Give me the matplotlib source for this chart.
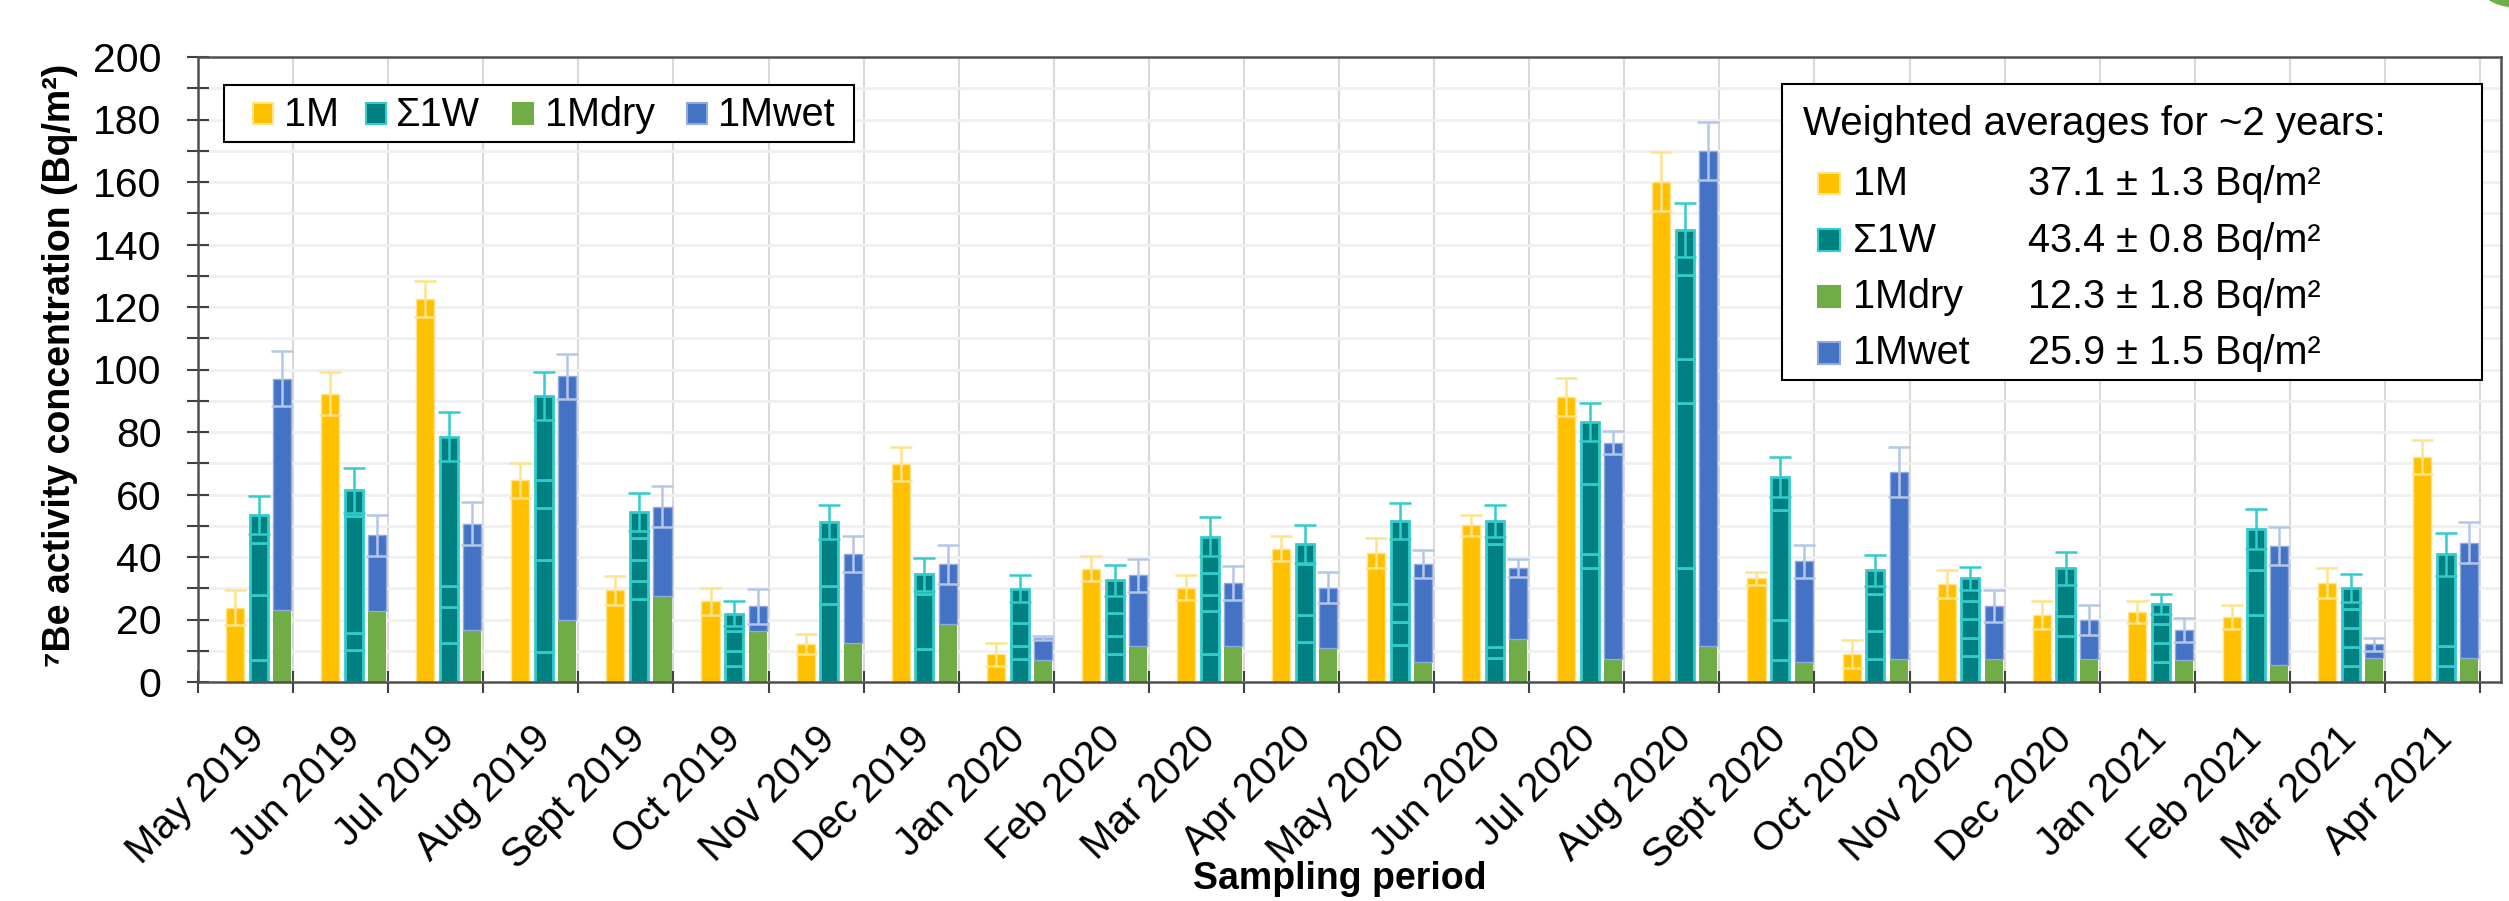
import numpy as np
import matplotlib
matplotlib.use("Agg")
import matplotlib.pyplot as plt
from matplotlib.patches import Rectangle, Ellipse

plt.rcParams['font.family'] = ['Liberation Sans', 'DejaVu Sans']

# data (Bq/m2)
months = ['May 2019', 'Jun 2019', 'Jul 2019', 'Aug 2019', 'Sept 2019', 'Oct 2019',
          'Nov 2019', 'Dec 2019', 'Jan 2020', 'Feb 2020', 'Mar 2020', 'Apr 2020',
          'May 2020', 'Jun 2020', 'Jul 2020', 'Aug 2020', 'Sept 2020', 'Oct 2020',
          'Nov 2020', 'Dec 2020', 'Jan 2021', 'Feb 2021', 'Mar 2021', 'Apr 2021']

m1 = [23.8, 92.3, 122.5, 64.5, 29.3, 25.9, 12.1, 69.7, 8.9, 36.3, 30.2, 42.7,
      41.2, 50.1, 91.3, 160.1, 33.2, 8.9, 31.3, 21.4, 22.4, 20.8, 31.8, 72.0]
m1_err = [5.5, 7.0, 5.8, 5.5, 4.6, 4.3, 3.2, 5.5, 3.7, 4.0, 4.0, 4.0,
          4.8, 3.3, 6.1, 9.4, 2.1, 4.5, 4.5, 4.5, 3.5, 3.7, 4.8, 5.4]

# weekly samples, stacked into the sum-of-weeks bar
weekly = [[6.9, 20.9, 16.8, 8.8],
          [10.1, 5.7, 37.4, 8.1],
          [12.6, 11.4, 6.6, 47.9],
          [9.7, 29.2, 16.7, 8.9, 27.0],
          [26.5, 5.8, 6.6, 7.1, 8.4],
          [5.1, 4.8, 6.4, 5.6],
          [25.1, 5.6, 20.5],
          [10.5, 17.8, 6.2],
          [7.5, 4.0, 7.5, 10.9],
          [9.1, 5.6, 7.5, 10.3],
          [8.9, 13.8, 5.0, 7.1, 11.7],
          [12.9, 8.5, 16.5, 6.2],
          [11.8, 7.4, 5.7, 26.6],
          [7.8, 3.4, 32.9, 7.4],
          [36.6, 4.3, 22.6, 19.7],
          [36.6, 52.6, 14.3, 26.7, 14.4],
          [6.9, 12.9, 35.2, 10.6],
          [7.3, 9.0, 11.8, 7.6],
          [8.3, 5.9, 5.9, 5.8, 7.3],
          [14.7, 6.4, 15.3],
          [6.5, 5.9, 6.2, 6.4],
          [21.6, 14.4, 13.0],
          [5.1, 6.1, 6.0, 6.1, 6.9],
          [5.1, 6.4, 29.4]]
w_err = [6.0, 7.3, 7.9, 7.8, 6.0, 4.0, 5.4, 5.3, 4.3, 4.9, 6.3, 6.0,
         5.7, 5.1, 6.0, 8.6, 6.5, 5.1, 3.6, 5.3, 3.2, 6.4, 4.5, 6.9]

dry = [23.0, 22.7, 16.6, 19.8, 27.5, 16.3, 12.6, 18.7, 6.9, 11.5, 11.5, 10.8,
       6.5, 13.9, 7.5, 11.5, 6.5, 7.5, 7.5, 7.5, 6.9, 5.4, 7.8, 7.8]
wet = [74.1, 24.2, 34.1, 78.1, 28.6, 8.0, 28.3, 19.0, 7.3, 22.7, 20.1, 19.4,
       31.2, 22.7, 69.1, 158.4, 32.2, 59.8, 16.8, 12.3, 9.7, 38.1, 4.3, 36.8]
wet_err = [8.8, 6.5, 6.9, 7.2, 6.6, 5.6, 5.8, 6.3, 0.6, 5.3, 5.5, 5.0,
           4.5, 2.9, 3.7, 9.2, 5.3, 8.0, 5.0, 4.8, 3.8, 6.1, 2.1, 6.6]

series_names = ['1M', 'Σ1W', '1Mdry', '1Mwet']
avg_text = ['37.1 ± 1.3 Bq/m²', '43.4 ± 0.8 Bq/m²', '12.3 ± 1.8 Bq/m²', '25.9 ± 1.5 Bq/m²']

# colours
YEL, YEL_E = '#FFC000', '#FFE38A'
TEAL, TURQ = '#008080', '#33CCCC'
GREEN = '#70AD47'
BLUE, BLUE_E = '#4472C4', '#B4C7E7'
face = [YEL, TEAL, GREEN, BLUE]
edge = [YEL_E, TURQ, GREEN, '#8FAADC']

W, H = 2509, 901
def fx(px):
    return px / W
def fy(py):
    return 1 - py / H

fig = plt.figure(figsize=(W / 100, H / 100), dpi=100)
ax = fig.add_axes([fx(198), fy(682), (2501 - 198) / W, (682 - 57) / H])
ax.set_axisbelow(True)

x = np.arange(len(months))
bw = 0.19
ebar = dict(fmt='none', elinewidth=1.8, capsize=8, capthick=1.8, zorder=4)

# 1M
ax.bar(x - 0.11, m1, bw, color=YEL, edgecolor=YEL_E, linewidth=1, zorder=2)
ax.errorbar(x - 0.11, m1, yerr=m1_err, ecolor=YEL_E, **ebar)

# sum of weekly samples
for i, weeks in enumerate(weekly):
    bottoms = np.concatenate([[0], np.cumsum(weeks)[:-1]])
    ax.bar(np.full(len(weeks), x[i] + 0.14), weeks, bw, bottom=bottoms,
           color=TEAL, edgecolor=TURQ, linewidth=2, zorder=2)
w_tot = [sum(w) for w in weekly]
ax.errorbar(x + 0.14, w_tot, yerr=w_err, ecolor=TURQ, **ebar)

# dry + wet stacked
ax.bar(x + 0.385, dry, bw, color=GREEN, linewidth=0, zorder=2)
ax.bar(x + 0.385, wet, bw, bottom=dry, color=BLUE, edgecolor='#8FAADC', linewidth=1, zorder=2)
ax.errorbar(x + 0.385, np.add(dry, wet), yerr=wet_err, ecolor=BLUE_E, **ebar)

# axes, ticks, grid
ax.set_xlim(-0.5, 23.72)
ax.set_ylim(0, 200)
ax.set_xticks(np.arange(-0.5, 24, 1))
ax.set_xticklabels([])
ax.set_xticks(x, minor=True)
ax.set_xticklabels(months, minor=True, rotation=45, ha='right', va='top',
                   rotation_mode='anchor', fontsize=29)
ax.tick_params(axis='x', which='major', direction='inout', length=16.5, width=1.5, color='#404040')
ax.tick_params(axis='x', which='minor', length=0, pad=27)
ax.set_yticks(np.arange(0, 201, 20))
ax.set_yticks(np.arange(10, 200, 20), minor=True)
ax.tick_params(axis='y', which='both', direction='inout', length=16.5, width=1.5,
               color='#404040', labelsize=29.5, pad=18)
ax.grid(axis='y', which='both', color='#F0F0F0', linewidth=2)
ax.grid(axis='x', which='major', color='#D9D9D9', linewidth=1.5)
for s in ax.spines.values():
    s.set_color('#505050')
    s.set_linewidth(1.8)

fig.text(fx(60), fy(365), '⁷Be activity concentration (Bq/m²)', rotation=90,
         ha='center', va='center', fontsize=27, fontweight='bold')
fig.text(fx(1340), fy(861), 'Sampling period', ha='center', va='top',
         fontsize=27, fontweight='bold')

# legend 1 (one row)
fig.add_artist(Rectangle((fx(224), fy(142)), (854 - 224) / W, 57 / H, transform=fig.transFigure,
                         facecolor='white', edgecolor='black', linewidth=1.5))
for px_patch, px_text, name, fc, ec in zip([253, 366, 513, 687], [284, 396, 545, 718],
                                           series_names, face, edge):
    fig.add_artist(Rectangle((fx(px_patch), fy(124)), 20 / W, 21 / H, transform=fig.transFigure,
                             facecolor=fc, edgecolor=ec, linewidth=1.5))
    fig.text(fx(px_text), fy(126), name, ha='left', va='baseline', fontsize=28.5)

# legend 2 (weighted averages)
fig.add_artist(Rectangle((fx(1782), fy(380)), 700 / W, 296 / H, transform=fig.transFigure,
                         facecolor='white', edgecolor='black', linewidth=1.5))
fig.text(fx(1803), fy(135), 'Weighted averages for ~2 years:', ha='left', va='baseline', fontsize=29)
for k, (name, val, fc, ec) in enumerate(zip(series_names, avg_text, face, edge)):
    base = 195 + 56.5 * k
    fig.add_artist(Rectangle((fx(1818), fy(base - 1)), 22 / W, 21 / H, transform=fig.transFigure,
                             facecolor=fc, edgecolor=ec, linewidth=1.5))
    fig.text(fx(1853), fy(base), name, ha='left', va='baseline', fontsize=28.5)
    fig.text(fx(2028), fy(base), val, ha='left', va='baseline', fontsize=28.5)

# green fragment in the top-right corner
fig.add_artist(Ellipse((fx(2530), fy(-6)), 90 / W, 30 / H, transform=fig.transFigure,
                       facecolor=GREEN, edgecolor='none'))

fig.savefig('out.png', dpi=100)
